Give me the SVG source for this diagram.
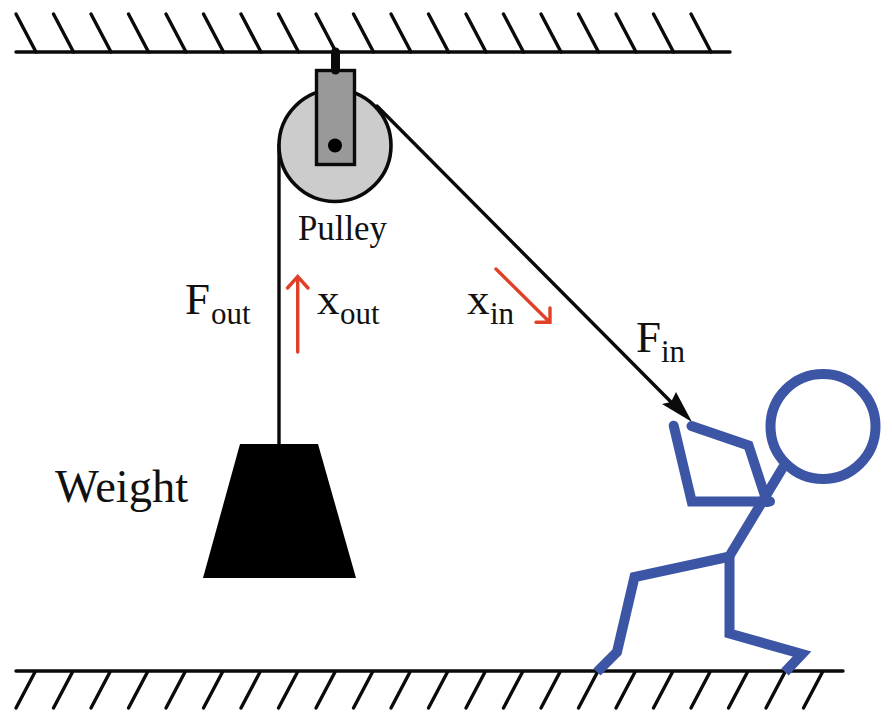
<svg xmlns="http://www.w3.org/2000/svg" width="892" height="725" viewBox="0 0 892 725">
<style>
.ln{fill:none;stroke:#0a0a0a;stroke-width:3.4;stroke-linecap:round}
.red{fill:none;stroke:#e04028;stroke-width:3.4;stroke-linecap:round;stroke-linejoin:miter}
.fig{fill:none;stroke:#3c55a5;stroke-width:10;stroke-linejoin:miter}
text{font-family:"Liberation Serif","Times New Roman",serif;fill:#111}
.main{font-size:45px}
.sub{font-size:31px}
</style>
<defs>
<path id="hc" class="ln" d="M16 14L36 52"/>
<path id="hf" class="ln" d="M35 672L16 708"/>
</defs>
<rect width="892" height="725" fill="#fff"/>
<g id="ceiling">
<path class="ln" d="M16 52H730"/>
<use href="#hc"/><use href="#hc" x="37.5"/><use href="#hc" x="75"/><use href="#hc" x="112.5"/><use href="#hc" x="150"/><use href="#hc" x="187.5"/><use href="#hc" x="225"/><use href="#hc" x="262.5"/><use href="#hc" x="300"/><use href="#hc" x="337.5"/><use href="#hc" x="375"/><use href="#hc" x="412.5"/><use href="#hc" x="450"/><use href="#hc" x="487.5"/><use href="#hc" x="525"/><use href="#hc" x="562.5"/><use href="#hc" x="600"/><use href="#hc" x="637.5"/><use href="#hc" x="675"/>
</g>
<g id="floor">
<path class="ln" d="M16 671H843"/>
<use href="#hf"/><use href="#hf" x="37.5"/><use href="#hf" x="75"/><use href="#hf" x="112.5"/><use href="#hf" x="150"/><use href="#hf" x="187.5"/><use href="#hf" x="225"/><use href="#hf" x="262.5"/><use href="#hf" x="300"/><use href="#hf" x="337.5"/><use href="#hf" x="375"/><use href="#hf" x="412.5"/><use href="#hf" x="450"/><use href="#hf" x="487.5"/><use href="#hf" x="525"/><use href="#hf" x="562.5"/><use href="#hf" x="600"/><use href="#hf" x="637.5"/><use href="#hf" x="675"/><use href="#hf" x="712.5"/><use href="#hf" x="750"/><use href="#hf" x="787.5"/>
</g>
<g id="connectors">
<path class="ln" d="M279 145V444"/>
<path class="ln" d="M377 106L676 407"/>
<path d="M692 422L662 404L671 402L676 392Z" fill="#0a0a0a"/>
<path class="red" d="M297.7 352V277M287.5 288L297.7 276.5L308 288"/>
<path class="red" d="M496 269L549.5 322M550 308V322.3H536"/>
</g>
<g id="pulley">
<circle cx="335" cy="145.5" r="56" fill="#ccc" stroke="#0a0a0a" stroke-width="3.6"/>
<rect x="316.5" y="70.5" width="38" height="94" fill="#999" stroke="#0a0a0a" stroke-width="3.4"/>
<circle cx="335" cy="145.5" r="7" fill="#000"/>
<path d="M335.5 52V70" fill="none" stroke="#0a0a0a" stroke-width="9" stroke-linecap="round"/>
<text x="298" y="240" font-size="34.8px">Pulley</text>
</g>
<g id="weight">
<path d="M240 444H318L356 578H203Z" fill="#000"/>
<text x="55" y="502" font-size="46.5px">Weight</text>
</g>
<g id="person">
<circle class="fig" cx="823" cy="426.5" r="52.5"/>
<path class="fig" d="M783.5 466.5L729.5 556"/>
<path class="fig" stroke-linecap="round" d="M691.5 426L748.5 445.5L767 502"/>
<path class="fig" stroke-linecap="round" d="M673.7 425.7L691.7 501.5H770"/>
<path class="fig" d="M730 556.5L634.5 577L617 652L597 672"/>
<path class="fig" d="M729.5 555V633.5L802 654L785 672"/>
</g>
<g id="labels">
<text class="main" x="185" y="314">F</text><text class="sub" x="211" y="324">out</text>
<text class="main" x="317" y="314">x</text><text class="sub" x="340" y="324">out</text>
<text class="main" x="467" y="314">x</text><text class="sub" x="490" y="324">in</text>
<text class="main" x="636" y="352">F</text><text class="sub" x="661" y="362">in</text>
</g>
</svg>
